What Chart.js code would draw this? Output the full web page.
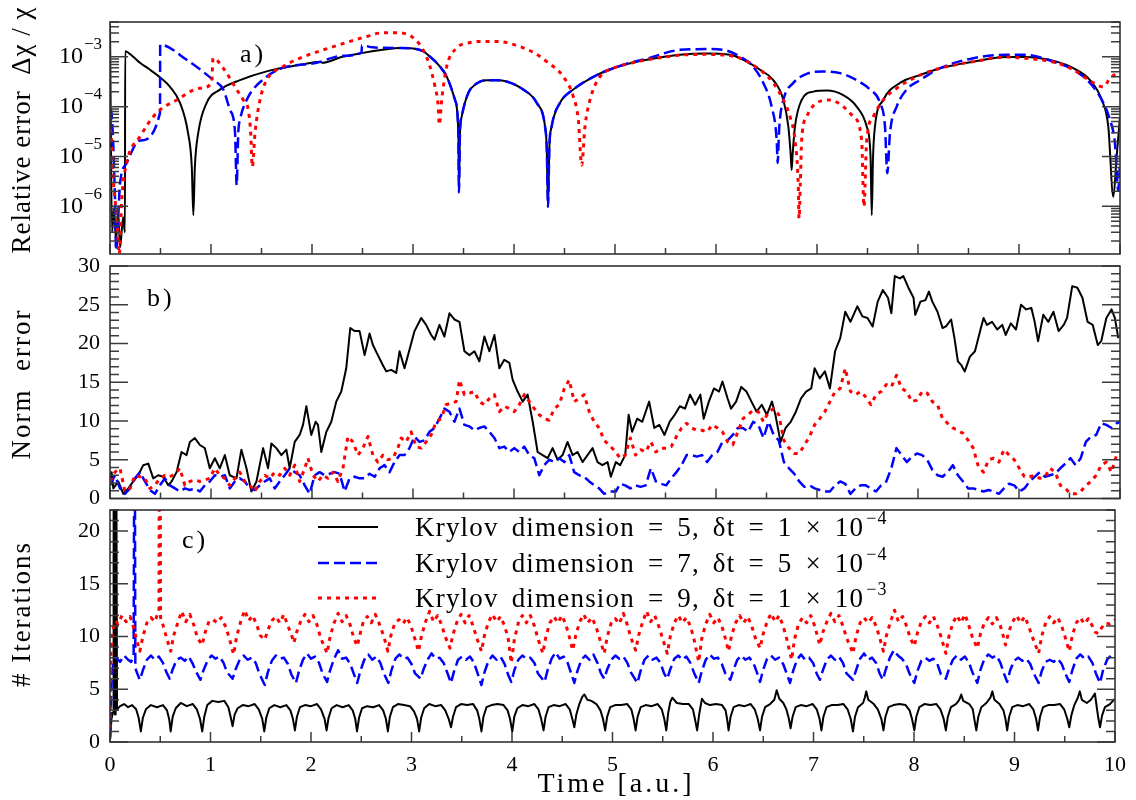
<!DOCTYPE html>
<html>
<head>
<meta charset="utf-8">
<title>Krylov propagation errors</title>
<script src="https://cdn.jsdelivr.net/npm/chart.js@4.4.1/dist/chart.umd.min.js"></script>
<style>
  html, body { margin: 0; background: #fff; }
  #wrap { position: relative; width: 1136px; height: 800px; }
  #wrap canvas { position: absolute; left: 0; top: 0; }
</style>
</head>
<body>
<div id="wrap">
  <canvas id="relChart" width="1136" height="800"></canvas>
  <canvas id="normChart" width="1136" height="800"></canvas>
  <canvas id="iterChart" width="1136" height="800"></canvas>
</div>
<script>
// series: Krylov dimension 5 / 7 / 9, each point is [time, value]
const krylovDims = [5, 7, 9];
const stepMantissa = ['1', '5', '1'];
const stepExponent = ['−4', '−4', '−3'];
const panelTags = ['a)', 'b)', 'c)'];
const axisTitles = ['Relative error  Δχ / χ', 'Norm  error', '# Iterations', 'Time [a.u.]'];
const relTickPowers = [-3, -4, -5, -6];
const timeTicks = [0, 1, 2, 3, 4, 5, 6, 7, 8, 9, 10];

// a) relative error of the expectation value
const relErrK5 = [[0.0,4.5e-3],[0.02,3e-7],[0.04,9e-7],[0.06,2e-7],[0.08,8e-7],[0.1,1.5e-7],[0.13,6e-7],[0.148,3e-7],
  [0.15,1.3e-3],[0.23,1.0e-3],[0.3,7.5e-4],[0.396,5.5e-4],[0.5,3.8e-4],[0.594,2.5e-4],[0.693,1.19e-4],[0.772,3.0e-5],
  [0.81,6e-6],[0.825,6.6e-7],[0.84,6e-6],[0.874,3.0e-5],[0.957,1.19e-4],[1.089,2.2e-4],[1.287,3.4e-4],[1.551,5.1e-4],
  [1.881,6.9e-4],[2.079,8.0e-4],[2.1,7.6e-4],[2.3,1.0e-3],[2.505,1.2e-3],[2.7,1.38e-3],[2.871,1.5e-3],[3.0,1.47e-3],
  [3.1,1.3e-3],[3.168,1.01e-3],[3.25,7e-4],[3.334,4.0e-4],[3.416,1.36e-4],[3.449,3.0e-5],[3.455,1.9e-6],[3.465,3e-5],
  [3.482,6.3e-5],[3.547,1.86e-4],[3.629,2.9e-4],[3.729,3.4e-4],[3.827,3.4e-4],[3.927,3.2e-4],[4.092,2.2e-4],[4.225,1.19e-4],
  [4.307,4.0e-5],[4.324,1.5e-5],[4.337,9.8e-7],[4.35,1.5e-5],[4.373,4.0e-5],[4.455,1.19e-4],[4.587,2.2e-4],[4.819,4.3e-4],
  [4.983,5.9e-4],[5.15,7.4e-4],[5.314,8.7e-4],[5.644,1.1e-3],[5.908,1.16e-3],[6.139,1.1e-3],[6.304,8.0e-4],[6.436,5.5e-4],
  [6.567,3.4e-4],[6.667,1.36e-4],[6.716,4.0e-5],[6.738,1.2e-5],[6.749,5.3e-6],[6.76,1.2e-5],[6.782,4.0e-5],[6.848,1.36e-4],
  [6.964,2.0e-4],[7.096,2.1e-4],[7.26,1.7e-4],[7.393,1.0e-4],[7.492,4.0e-5],[7.53,1e-5],[7.542,6.6e-7],[7.555,1e-5],
  [7.574,4.0e-5],[7.656,1.36e-4],[7.822,3.0e-4],[8.02,4.3e-4],[8.218,5.9e-4],[8.548,8.0e-4],[8.878,9.9e-4],[9.043,9.9e-4],
  [9.373,8.0e-4],[9.538,5.9e-4],[9.703,3.4e-4],[9.819,1.36e-4],[9.884,4.0e-5],[9.934,1.55e-6],[9.967,1.0e-5],[10.0,6.3e-5]];

const relErrK7 = [[0.0,9e-5],[0.01,8.6e-5],[0.05,1.3e-6],[0.06,1.3e-7],[0.1,2.9e-6],[0.165,7.4e-6],[0.297,2.1e-5],
  [0.495,7.5e-5],[0.497,1.75e-3],[0.759,8.7e-4],[1.023,3.4e-4],[1.122,2.2e-4],[1.188,8.6e-5],[1.238,3.0e-5],[1.254,2.66e-6],
  [1.27,3e-5],[1.287,5.4e-5],[1.353,1.36e-4],[1.551,4.0e-4],[1.713,6.0e-4],[2.047,7.6e-4],[2.3,1.05e-3],[2.49,1.22e-3],
  [2.495,1.7e-3],[2.6,1.55e-3],[2.871,1.5e-3],[3.0,1.47e-3],[3.1,1.3e-3],[3.168,1.01e-3],[3.25,7e-4],[3.334,4.0e-4],
  [3.416,1.36e-4],[3.449,3.0e-5],[3.455,1.9e-6],[3.465,3e-5],[3.482,6.3e-5],[3.547,1.86e-4],[3.629,2.9e-4],[3.729,3.4e-4],
  [3.827,3.4e-4],[3.927,3.2e-4],[4.092,2.2e-4],[4.225,1.19e-4],[4.307,4.0e-5],[4.324,1.5e-5],[4.337,9.8e-7],[4.35,1.5e-5],
  [4.373,4.0e-5],[4.455,1.19e-4],[4.587,2.2e-4],[4.819,4.3e-4],[4.983,5.9e-4],[5.15,7.6e-4],[5.314,9.2e-4],[5.644,1.38e-3],
  [5.908,1.43e-3],[6.069,1.38e-3],[6.238,1.01e-3],[6.366,6.4e-4],[6.468,3.0e-4],[6.551,1.0e-4],[6.601,2.1e-5],[6.611,7.4e-6],
  [6.62,2e-5],[6.627,4.0e-5],[6.667,1.36e-4],[6.766,3.0e-4],[6.898,4.55e-4],[7.062,5.1e-4],[7.228,4.7e-4],[7.393,3.4e-4],
  [7.525,2.2e-4],[7.624,1.19e-4],[7.673,4.0e-5],[7.696,4.6e-6],[7.723,3.0e-5],[7.789,1.0e-4],[7.888,2.2e-4],[8.02,3.4e-4],
  [8.218,5.9e-4],[8.548,9.4e-4],[8.878,1.1e-3],[9.043,1.1e-3],[9.373,7.6e-4],[9.538,5.5e-4],[9.703,3.0e-4],[9.835,1.19e-4],
  [9.901,5.4e-5],[9.95,1.86e-5],[9.983,2.1e-6],[10.0,7.4e-6]];

const relErrK9 = [[0.0,3.5e-5],[0.01,3.0e-5],[0.033,3.4e-6],[0.066,6.2e-7],[0.092,1.1e-7],[0.116,1.33e-6],[0.165,7.4e-6],
  [0.297,2.5e-5],[0.462,7.5e-5],[0.661,1.36e-4],[0.891,2.34e-4],[1.007,3.0e-4],[1.02,9.4e-4],[1.06,8.5e-4],[1.155,4.7e-4],
  [1.254,2.2e-4],[1.32,1.36e-4],[1.369,8.6e-5],[1.393,3.0e-5],[1.409,6.2e-6],[1.436,3.0e-5],[1.485,1.36e-4],[1.551,3.4e-4],
  [1.716,6.4e-4],[1.881,9.4e-4],[2.211,1.6e-3],[2.542,2.56e-3],[2.673,3.0e-3],[2.85,3.05e-3],[3.003,2.4e-3],[3.1,1.38e-3],
  [3.168,6.4e-4],[3.218,2.5e-4],[3.25,1.0e-4],[3.26,4.3e-5],[3.284,1.36e-4],[3.334,6.4e-4],[3.433,1.5e-3],[3.55,1.9e-3],
  [3.663,2.03e-3],[3.829,2.03e-3],[4.059,1.6e-3],[4.2,1.2e-3],[4.324,8.0e-4],[4.488,4.0e-4],[4.587,1.6e-4],[4.637,5.4e-5],
  [4.67,6.7e-6],[4.703,4.0e-5],[4.752,1.36e-4],[4.851,4.0e-4],[4.983,5.9e-4],[5.15,7.4e-4],[5.314,8.7e-4],[5.644,1.08e-3],
  [5.908,1.12e-3],[6.1,1.08e-3],[6.238,9.4e-4],[6.436,5.5e-4],[6.567,3.0e-4],[6.667,1.36e-4],[6.733,6.3e-5],[6.782,2.1e-5],
  [6.815,2.45e-6],[6.822,5.7e-7],[6.835,3e-6],[6.848,2.1e-5],[6.898,6.3e-5],[6.997,1.19e-4],[7.129,1.36e-4],[7.26,1.0e-4],
  [7.36,6.3e-5],[7.442,2.1e-5],[7.465,9.8e-7],[7.492,2.1e-5],[7.557,6.3e-5],[7.656,1.36e-4],[7.789,2.34e-4],[8.02,4.3e-4],
  [8.218,5.9e-4],[8.548,8.0e-4],[8.878,9.9e-4],[9.043,9.4e-4],[9.373,7.6e-4],[9.538,5.5e-4],[9.736,3.0e-4],[9.835,2.5e-4],
  [9.901,3.7e-4],[10.0,5.1e-4]];

// b) norm error
const normK5 = [[0.0,2.2],[0.016,3.4],[0.033,1.3],[0.082,2.2],[0.132,0.6],[0.181,1.3],[0.231,2.2],[0.28,3.0],[0.329,4.3],
  [0.379,4.5],[0.428,2.6],[0.478,3.0],[0.527,2.8],[0.577,1.7],[0.61,2.2],[0.659,3.4],[0.708,6.0],[0.758,5.6],[0.791,7.3],
  [0.84,7.8],[0.89,6.9],[0.939,6.5],[0.988,3.9],[1.038,5.2],[1.087,3.9],[1.137,5.6],[1.186,3.0],[1.252,2.6],[1.301,6.3],
  [1.351,3.9],[1.4,0.9],[1.45,2.2],[1.516,6.5],[1.565,3.9],[1.598,7.1],[1.647,6.5],[1.697,5.6],[1.746,6.3],[1.779,3.9],
  [1.829,7.3],[1.878,8.2],[1.911,9.5],[1.944,11.9],[1.993,8.2],[2.036,9.9],[2.059,9.5],[2.092,6.0],[2.142,8.6],[2.191,9.9],
  [2.24,12.5],[2.29,13.8],[2.339,16.8],[2.379,22.0],[2.422,21.6],[2.471,21.6],[2.521,18.5],[2.57,21.3],[2.603,19.8],
  [2.652,18.5],[2.702,17.2],[2.735,16.4],[2.784,16.6],[2.834,16.2],[2.867,19.0],[2.916,16.8],[2.965,19.2],[3.015,21.6],
  [3.081,23.3],[3.13,22.4],[3.18,21.1],[3.213,20.5],[3.262,22.4],[3.311,20.9],[3.361,23.9],[3.41,23.1],[3.46,22.8],
  [3.509,19.0],[3.559,18.5],[3.608,19.0],[3.657,17.7],[3.707,20.9],[3.756,19.0],[3.806,21.1],[3.855,16.8],[3.904,17.9],
  [3.954,17.5],[3.987,15.3],[4.036,13.8],[4.086,12.5],[4.135,13.4],[4.185,9.9],[4.234,6.0],[4.283,5.6],[4.333,5.2],
  [4.382,6.5],[4.432,5.0],[4.481,5.6],[4.53,7.3],[4.58,5.6],[4.629,6.0],[4.679,4.7],[4.728,5.6],[4.778,6.5],[4.827,4.7],
  [4.876,4.3],[4.926,4.7],[4.959,2.8],[5.008,4.7],[5.051,4.3],[5.101,5.6],[5.135,10.8],[5.169,8.6],[5.22,10.3],[5.27,9.9],
  [5.338,12.5],[5.389,9.1],[5.439,9.5],[5.49,8.2],[5.541,9.9],[5.591,10.8],[5.642,11.9],[5.693,11.6],[5.743,13.4],
  [5.794,12.1],[5.845,13.4],[5.878,10.3],[5.929,12.5],[5.98,14.2],[6.03,13.8],[6.064,15.1],[6.115,12.9],[6.149,11.6],
  [6.199,12.5],[6.25,14.4],[6.301,13.8],[6.351,12.5],[6.402,11.2],[6.453,12.1],[6.503,10.8],[6.554,12.5],[6.588,10.8],
  [6.639,7.3],[6.689,9.1],[6.74,9.9],[6.791,11.2],[6.841,12.9],[6.892,13.8],[6.943,14.2],[6.976,16.8],[7.027,15.5],
  [7.078,16.4],[7.128,14.2],[7.179,19.0],[7.23,20.7],[7.28,24.1],[7.331,22.8],[7.399,24.8],[7.449,23.5],[7.5,23.3],
  [7.551,22.2],[7.601,25.4],[7.652,26.9],[7.703,25.9],[7.736,23.9],[7.77,28.7],[7.821,28.4],[7.855,28.7],[7.905,27.2],
  [7.956,25.9],[7.973,23.7],[8.024,25.4],[8.074,25.6],[8.108,26.7],[8.142,25.4],[8.193,24.1],[8.243,22.0],[8.277,22.2],
  [8.328,23.1],[8.361,20.7],[8.395,17.7],[8.429,17.2],[8.463,16.4],[8.514,18.3],[8.564,19.0],[8.615,21.6],[8.649,23.3],
  [8.682,22.4],[8.733,22.8],[8.784,21.8],[8.834,22.4],[8.868,21.1],[8.919,22.6],[8.97,21.8],[9.02,25.0],[9.071,24.4],
  [9.122,24.6],[9.155,22.8],[9.189,20.3],[9.24,23.7],[9.291,22.8],[9.341,24.1],[9.392,21.6],[9.443,22.4],[9.476,23.3],
  [9.527,27.4],[9.578,27.2],[9.628,25.9],[9.679,22.8],[9.73,22.4],[9.78,19.8],[9.814,20.3],[9.865,23.3],[9.916,24.4],
  [9.949,23.3],[9.983,20.7]];

const normK7 = [[0,1.7],[0.049,3.0],[0.099,1.3],[0.148,0.6],[0.198,1.3],[0.247,2.6],[0.297,3.4],[0.346,2.2],[0.395,1.1],
  [0.445,0.6],[0.494,1.7],[0.544,2.6],[0.593,1.7],[0.643,1.3],[0.692,0.9],[0.741,1.3],[0.791,1.1],[0.84,1.3],[0.89,0.9],
  [0.939,1.7],[0.988,2.2],[1.038,3.0],[1.087,2.8],[1.137,3.0],[1.186,1.3],[1.236,2.2],[1.285,2.6],[1.334,2.2],[1.384,1.3],
  [1.433,1.1],[1.483,1.7],[1.532,2.2],[1.582,2.6],[1.631,1.3],[1.68,2.2],[1.73,3.0],[1.779,3.9],[1.829,3.4],[1.878,3.0],
  [1.928,1.7],[1.977,0.6],[2.026,3.0],[2.076,3.4],[2.125,3.0],[2.175,3.2],[2.224,3.4],[2.274,3.2],[2.323,0.9],[2.372,2.6],
  [2.422,2.8],[2.471,2.6],[2.521,2.6],[2.57,3.2],[2.62,2.8],[2.669,3.9],[2.718,4.3],[2.768,3.4],[2.817,4.7],[2.867,5.6],
  [2.916,5.6],[2.965,6.5],[3.015,8.0],[3.064,7.3],[3.114,7.5],[3.163,8.6],[3.213,9.1],[3.262,10.3],[3.311,11.6],[3.361,11.2],
  [3.41,9.9],[3.46,11.6],[3.509,9.5],[3.559,9.3],[3.608,8.8],[3.657,9.1],[3.707,9.3],[3.756,8.6],[3.806,7.8],[3.855,6.5],
  [3.904,6.7],[3.954,6.0],[4.003,6.5],[4.053,6.0],[4.102,6.7],[4.152,5.6],[4.201,5.2],[4.25,3.0],[4.3,4.3],[4.349,5.0],
  [4.399,4.7],[4.448,5.2],[4.498,4.7],[4.547,5.6],[4.596,3.4],[4.646,3.0],[4.695,2.8],[4.745,2.2],[4.794,1.7],[4.843,1.3],
  [4.893,0.6],[4.942,0.9],[5.008,0.9],[5.051,1.9],[5.101,1.7],[5.152,1.3],[5.203,1.7],[5.253,1.5],[5.304,1.7],[5.355,3.9],
  [5.405,2.2],[5.456,1.9],[5.507,1.7],[5.557,2.6],[5.608,3.4],[5.659,4.3],[5.709,5.6],[5.76,5.6],[5.811,5.4],[5.861,5.6],
  [5.912,4.7],[5.963,5.6],[6.014,6.0],[6.064,7.3],[6.115,7.5],[6.166,8.2],[6.216,9.1],[6.267,9.1],[6.318,8.6],[6.368,9.9],
  [6.419,9.5],[6.47,7.8],[6.52,9.9],[6.571,8.2],[6.622,7.5],[6.672,4.7],[6.723,3.9],[6.774,3.2],[6.824,2.2],[6.875,1.5],
  [6.926,1.7],[6.976,1.3],[7.027,1.1],[7.078,0.9],[7.128,0.9],[7.179,1.7],[7.23,2.2],[7.28,1.9],[7.331,0.6],[7.382,1.3],
  [7.432,1.7],[7.483,1.7],[7.534,1.3],[7.584,0.9],[7.635,1.7],[7.686,2.2],[7.736,3.9],[7.787,6.5],[7.838,5.6],[7.889,4.7],
  [7.939,5.4],[7.99,5.8],[8.041,5.6],[8.091,5.0],[8.142,3.7],[8.193,3.0],[8.243,2.8],[8.294,3.4],[8.345,4.3],[8.395,3.0],
  [8.446,2.2],[8.497,1.3],[8.547,1.3],[8.598,1.1],[8.649,0.9],[8.699,1.1],[8.75,0.9],[8.801,0.6],[8.851,1.3],[8.902,1.9],
  [8.953,1.7],[9.003,0.9],[9.054,1.3],[9.105,2.2],[9.155,2.8],[9.206,3.4],[9.257,2.8],[9.307,3.0],[9.358,3.2],[9.409,3.9],
  [9.459,4.5],[9.51,5.2],[9.561,4.3],[9.611,5.2],[9.662,7.3],[9.713,8.0],[9.764,8.2],[9.814,9.7],[9.865,9.5],[9.916,9.1],
  [9.966,9.7],[10.0,9.9]];

const normK9 = [[0,2.2],[0.049,3.4],[0.099,3.9],[0.148,0.9],[0.198,1.3],[0.247,3.0],[0.297,2.8],[0.346,2.6],[0.395,1.3],
  [0.445,1.7],[0.494,2.6],[0.544,3.0],[0.593,2.8],[0.643,3.2],[0.692,3.9],[0.741,1.7],[0.791,2.2],[0.84,2.4],[0.89,2.2],
  [0.939,2.4],[0.988,2.6],[1.038,3.9],[1.087,3.0],[1.137,2.6],[1.186,1.7],[1.236,2.6],[1.285,3.4],[1.334,2.2],[1.384,1.7],
  [1.433,0.9],[1.483,2.2],[1.532,3.0],[1.582,2.6],[1.631,3.4],[1.68,3.0],[1.73,3.9],[1.779,3.0],[1.829,4.3],[1.878,2.2],
  [1.928,3.9],[1.96,5.2],[2.01,3.0],[2.059,2.2],[2.109,3.0],[2.158,2.6],[2.208,3.4],[2.257,2.2],[2.306,3.9],[2.356,8.0],
  [2.405,7.3],[2.455,5.6],[2.504,6.5],[2.554,8.0],[2.603,5.6],[2.652,4.7],[2.702,5.6],[2.751,5.0],[2.801,5.2],[2.85,6.5],
  [2.883,7.8],[2.932,7.3],[2.982,8.6],[3.031,6.7],[3.081,6.5],[3.13,7.3],[3.18,8.2],[3.229,9.9],[3.278,10.3],[3.328,12.1],
  [3.377,12.3],[3.427,12.5],[3.46,15.3],[3.509,13.4],[3.559,13.6],[3.608,13.8],[3.657,12.5],[3.707,12.1],[3.756,12.9],
  [3.806,13.4],[3.855,11.2],[3.904,11.9],[3.954,11.6],[4.003,11.2],[4.053,12.1],[4.102,13.4],[4.152,12.5],[4.201,11.6],
  [4.25,10.8],[4.3,10.3],[4.349,10.1],[4.399,11.6],[4.448,12.1],[4.498,14.2],[4.547,15.3],[4.596,12.5],[4.646,12.9],
  [4.695,13.4],[4.745,11.2],[4.794,9.9],[4.843,9.1],[4.893,7.5],[4.942,6.9],[5.008,6.0],[5.051,5.2],[5.101,5.6],[5.152,7.8],
  [5.203,5.6],[5.253,6.3],[5.304,6.0],[5.355,7.3],[5.405,6.0],[5.456,6.5],[5.507,6.5],[5.557,6.7],[5.608,8.0],[5.659,9.1],
  [5.709,9.7],[5.76,9.1],[5.811,8.8],[5.861,8.8],[5.912,8.6],[5.963,9.5],[6.014,9.1],[6.064,8.6],[6.115,7.3],[6.166,6.9],
  [6.216,8.6],[6.267,10.3],[6.318,10.8],[6.368,11.4],[6.419,11.2],[6.47,9.9],[6.52,11.2],[6.571,11.6],[6.622,10.8],
  [6.672,7.5],[6.723,6.5],[6.774,5.8],[6.824,5.8],[6.875,6.9],[6.926,8.0],[6.976,9.5],[7.027,10.3],[7.078,11.2],[7.128,12.5],
  [7.179,13.8],[7.23,14.2],[7.28,16.8],[7.331,13.8],[7.382,13.4],[7.432,13.8],[7.483,13.1],[7.534,12.1],[7.584,13.4],
  [7.635,13.8],[7.686,14.7],[7.736,14.4],[7.787,15.9],[7.838,14.2],[7.889,13.8],[7.939,12.5],[7.99,12.7],[8.041,13.8],
  [8.091,13.6],[8.142,12.5],[8.193,12.1],[8.243,10.3],[8.294,9.7],[8.345,9.1],[8.395,8.8],[8.446,8.4],[8.497,7.5],[8.547,6.5],
  [8.598,4.1],[8.649,3.4],[8.699,5.0],[8.75,5.2],[8.801,4.7],[8.851,6.3],[8.902,5.6],[8.953,5.0],[9.003,3.9],[9.054,2.8],
  [9.105,2.8],[9.155,3.0],[9.206,2.6],[9.257,2.8],[9.307,3.9],[9.358,3.4],[9.409,1.7],[9.459,1.3],[9.51,0.6],[9.561,0.6],
  [9.611,0.9],[9.662,1.7],[9.713,2.2],[9.764,3.0],[9.814,4.3],[9.865,4.7],[9.916,3.4],[9.966,5.6]];

// c) Lanczos iterations per step
const iterK5 = [[0,0.2],[0.015,2.2],[0.03,2.8],[0.036,24],[0.044,24],[0.05,2.6],[0.056,24],[0.064,24],[0.07,3.1],[0.1,3.4],
  [0.14,3.6],[0.18,3.3],[0.22,3.5],[0.26,3.1],[0.285,2.3],
  [0.307,1.0],[0.327,2.3],[0.357,3.1],[0.407,3.5],[0.467,3.3],[0.527,3.5],[0.567,3.0],[0.59,2.1],
  [0.604,1.0],[0.624,2.4],[0.654,3.2],[0.704,3.7],[0.764,3.4],[0.824,3.6],[0.864,3.1],[0.895,2.2],
  [0.918,1.0],[0.938,2.4],[0.968,3.5],[1.018,3.9],[1.078,3.8],[1.138,3.9],[1.178,3.3],[1.2,2.4],
  [1.22,1.5],[1.24,2.6],[1.27,3.2],[1.32,3.5],[1.38,3.4],[1.44,3.6],[1.48,3.1],[1.515,2.2],
  [1.535,1.0],[1.555,2.3],[1.585,3.2],[1.635,3.5],[1.695,3.3],[1.755,3.5],[1.795,3.0],[1.82,2.2],
  [1.84,1.1],[1.86,2.4],[1.89,3.3],[1.94,3.5],[2.0,3.4],[2.06,3.6],[2.1,3.1],[2.135,2.2],
  [2.155,1.1],[2.175,2.3],[2.205,3.2],[2.255,3.5],[2.315,3.3],[2.375,3.5],[2.415,3.0],[2.44,2.2],
  [2.458,1.0],[2.478,2.3],[2.508,3.2],[2.558,3.4],[2.618,3.3],[2.678,3.5],[2.718,3.0],[2.745,2.2],
  [2.765,1.0],[2.785,2.4],[2.815,3.3],[2.865,3.6],[2.925,3.5],[2.985,3.4],[3.025,2.9],[3.055,2.2],
  [3.076,1.0],[3.096,2.3],[3.126,3.2],[3.176,3.6],[3.236,3.4],[3.296,3.5],[3.336,3.0],[3.37,2.2],
  [3.393,1.4],[3.413,2.4],[3.443,3.3],[3.493,3.6],[3.553,3.5],[3.613,3.6],[3.653,3.0],[3.675,2.2],
  [3.696,1.0],[3.716,2.4],[3.746,3.3],[3.796,3.5],[3.856,3.6],[3.916,3.5],[3.956,3.0],[3.98,2.2],
  [4.003,1.0],[4.023,2.4],[4.053,3.2],[4.103,3.5],[4.163,3.4],[4.223,3.6],[4.263,3.1],[4.29,2.2],
  [4.314,1.1],[4.334,2.4],[4.364,3.3],[4.414,3.5],[4.474,3.4],[4.534,3.6],[4.574,3.1],[4.6,2.2],
  [4.62,1.4],[4.64,2.6],[4.67,3.6],[4.7,4.3],[4.72,4.5],[4.75,4.0],[4.79,3.9],[4.84,3.6],[4.88,3.0],[4.905,2.2],
  [4.927,1.1],[4.947,2.4],[4.977,3.3],[5.027,3.5],[5.087,3.5],[5.147,3.6],[5.187,3.1],[5.21,2.2],
  [5.23,1.1],[5.25,2.4],[5.28,3.3],[5.33,3.5],[5.39,3.4],[5.45,3.6],[5.49,3.1],[5.515,2.2],
  [5.535,1.1],[5.555,2.8],[5.575,3.8],[5.595,4.2],[5.64,3.7],[5.7,3.6],[5.76,3.6],[5.8,3.1],[5.82,2.2],
  [5.842,1.1],[5.862,2.6],[5.89,4.1],[5.92,3.7],[5.97,3.5],[6.03,3.6],[6.09,3.5],[6.125,3.0],[6.14,2.2],
  [6.155,1.1],[6.175,2.4],[6.205,3.3],[6.255,3.5],[6.315,3.4],[6.375,3.6],[6.415,3.1],[6.445,2.2],
  [6.468,1.1],[6.488,2.4],[6.518,3.3],[6.568,3.6],[6.61,4.0],[6.634,4.9],[6.66,4.1],[6.7,3.7],[6.73,3.1],[6.755,2.2],
  [6.772,1.3],[6.792,2.4],[6.822,3.3],[6.872,3.5],[6.932,3.4],[6.992,3.6],[7.032,3.1],[7.06,2.2],
  [7.079,1.1],[7.099,2.4],[7.129,3.3],[7.179,3.5],[7.239,3.5],[7.299,3.6],[7.339,3.1],[7.37,2.2],
  [7.393,1.0],[7.413,2.4],[7.443,3.3],[7.493,3.7],[7.51,4.2],[7.525,4.8],[7.545,4.0],[7.6,3.6],[7.64,3.1],[7.675,2.2],
  [7.696,1.1],[7.716,2.4],[7.746,3.3],[7.796,3.5],[7.856,3.6],[7.916,3.5],[7.956,3.0],[7.98,2.2],
  [8.003,1.1],[8.023,2.4],[8.053,3.3],[8.103,3.6],[8.163,3.5],[8.223,3.6],[8.263,3.1],[8.295,2.2],
  [8.317,1.1],[8.337,2.4],[8.367,3.3],[8.417,3.6],[8.45,4.0],[8.47,4.5],[8.49,3.9],[8.55,3.6],[8.585,3.1],[8.6,2.2],
  [8.62,1.1],[8.64,2.4],[8.67,3.3],[8.72,3.7],[8.76,4.2],[8.78,4.8],[8.8,4.0],[8.85,3.6],[8.89,3.0],[8.91,2.2],
  [8.927,1.1],[8.947,2.4],[8.977,3.3],[9.027,3.5],[9.087,3.4],[9.147,3.6],[9.187,3.1],[9.215,2.2],
  [9.234,1.1],[9.254,2.4],[9.284,3.3],[9.334,3.5],[9.394,3.5],[9.454,3.6],[9.494,3.1],[9.525,2.2],
  [9.545,1.4],[9.565,2.5],[9.595,3.5],[9.63,4.2],[9.65,4.8],[9.67,4.0],[9.72,3.7],[9.76,4.0],[9.8,4.6],[9.82,3.2],[9.835,2.2],
  [9.851,1.4],[9.871,2.5],[9.9,3.3],[9.95,3.6],[9.98,3.9],[10.0,4.1]];

const iterK7 = [[0,0.3],[0.015,5.5],[0.03,7.3],[0.06,8.0],[0.1,7.6],[0.14,8.2],[0.18,7.8],[0.21,7.6],[0.235,8.1],
  [0.24,25],[0.248,25],[0.252,7.0],[0.275,6.4],
  [0.297,5.9],[0.327,6.8],[0.367,7.8],[0.407,8.2],[0.447,7.8],[0.487,8.1],[0.527,7.5],[0.562,6.6],
  [0.594,6.0],[0.624,6.9],[0.664,7.8],[0.704,8.0],[0.744,7.7],[0.784,8.1],[0.824,7.4],[0.865,6.5],
  [0.9,5.9],[0.93,6.8],[0.97,7.7],[1.01,8.2],[1.05,7.9],[1.09,8.1],[1.13,7.5],[1.165,6.6],
  [1.22,6.0],[1.25,6.9],[1.29,7.8],[1.33,8.2],[1.37,7.8],[1.41,8.0],[1.45,7.5],[1.485,6.5],
  [1.54,5.4],[1.57,6.6],[1.61,7.7],[1.65,8.2],[1.69,7.9],[1.73,8.0],[1.77,7.4],[1.805,6.4],
  [1.85,5.6],[1.88,6.7],[1.92,7.8],[1.96,8.4],[2.0,7.9],[2.04,8.1],[2.08,7.5],[2.115,6.5],
  [2.16,5.7],[2.19,6.8],[2.23,7.9],[2.27,8.7],[2.31,7.9],[2.35,8.0],[2.39,7.4],[2.425,6.5],
  [2.46,5.6],[2.49,6.7],[2.53,7.8],[2.57,8.3],[2.61,7.8],[2.65,8.1],[2.69,7.5],[2.725,6.5],
  [2.77,5.6],[2.8,6.8],[2.84,7.9],[2.88,8.3],[2.92,7.9],[2.96,8.0],[3.0,7.4],[3.035,6.5],
  [3.09,6.0],[3.12,6.9],[3.16,7.8],[3.2,8.4],[3.24,7.9],[3.28,8.0],[3.32,7.5],[3.355,6.6],
  [3.393,5.6],[3.423,6.7],[3.463,7.8],[3.503,8.1],[3.543,7.8],[3.583,8.1],[3.623,7.5],[3.658,6.5],
  [3.696,5.4],[3.726,6.6],[3.766,7.7],[3.806,8.2],[3.846,7.8],[3.886,8.1],[3.926,7.4],[3.961,6.4],
  [3.993,5.7],[4.023,6.8],[4.063,7.8],[4.103,8.2],[4.143,7.9],[4.183,8.0],[4.223,7.5],[4.258,6.5],
  [4.324,5.7],[4.354,6.8],[4.394,7.9],[4.434,8.5],[4.474,7.9],[4.514,8.1],[4.554,7.5],[4.589,6.5],
  [4.62,5.6],[4.65,6.7],[4.69,7.8],[4.73,8.2],[4.77,7.8],[4.81,8.3],[4.85,7.5],[4.885,6.5],
  [4.918,6.0],[4.948,6.9],[4.988,7.8],[5.028,8.2],[5.068,7.9],[5.108,8.1],[5.148,7.5],[5.183,6.6],
  [5.248,5.6],[5.278,6.7],[5.318,7.8],[5.358,8.2],[5.398,7.8],[5.438,8.0],[5.478,7.5],[5.513,6.5],
  [5.545,6.0],[5.575,6.9],[5.615,7.9],[5.655,8.2],[5.695,7.8],[5.735,8.1],[5.775,7.5],[5.81,6.6],
  [5.858,5.6],[5.888,6.7],[5.928,7.8],[5.968,8.3],[6.008,7.9],[6.048,8.0],[6.088,7.4],[6.123,6.5],
  [6.172,5.9],[6.202,6.8],[6.242,7.8],[6.282,8.2],[6.322,7.8],[6.362,8.0],[6.402,7.5],[6.437,6.6],
  [6.468,5.7],[6.498,6.8],[6.538,7.9],[6.578,8.2],[6.618,7.8],[6.658,8.0],[6.698,7.4],[6.733,6.5],
  [6.766,5.6],[6.796,6.7],[6.836,7.8],[6.876,8.3],[6.916,7.8],[6.956,8.0],[6.996,7.5],[7.031,6.5],
  [7.063,5.9],[7.093,6.8],[7.133,7.8],[7.173,8.2],[7.213,7.8],[7.253,8.1],[7.293,7.5],[7.328,6.5],
  [7.393,5.9],[7.423,6.8],[7.463,7.9],[7.503,8.4],[7.543,7.8],[7.583,8.0],[7.623,7.5],[7.658,6.5],
  [7.69,5.9],[7.72,6.9],[7.76,8.0],[7.8,8.7],[7.84,8.2],[7.88,7.9],[7.92,7.4],[7.955,6.5],
  [8.003,5.6],[8.033,6.7],[8.073,7.7],[8.113,8.0],[8.153,7.7],[8.193,7.9],[8.233,7.4],[8.268,6.4],
  [8.317,6.0],[8.347,6.9],[8.387,7.8],[8.427,8.2],[8.467,7.8],[8.507,8.1],[8.547,7.5],[8.582,6.6],
  [8.63,5.6],[8.66,6.8],[8.7,7.9],[8.74,8.3],[8.78,8.0],[8.82,8.2],[8.86,7.5],[8.895,6.5],
  [8.927,5.7],[8.957,6.8],[8.997,7.7],[9.037,8.0],[9.077,7.7],[9.117,7.9],[9.157,7.4],[9.192,6.5],
  [9.24,5.6],[9.27,6.7],[9.31,7.6],[9.35,7.8],[9.39,7.6],[9.43,7.9],[9.47,7.4],[9.505,6.5],
  [9.545,5.7],[9.575,6.8],[9.615,7.9],[9.655,8.3],[9.695,7.9],[9.735,8.1],[9.775,7.5],[9.81,6.5],
  [9.851,5.6],[9.881,6.8],[9.921,7.8],[9.961,8.2],[10.0,8.3]];

const iterK9 = [[0,0.5],[0.01,8.5],[0.025,10.5],[0.05,11.5],[0.08,11.2],[0.12,12.0],[0.16,11.4],[0.2,11.9],[0.23,11.0],[0.262,9.8],
  [0.297,8.6],[0.327,10.0],[0.367,11.3],[0.407,11.8],[0.447,11.4],[0.475,12.2],[0.487,12.4],[0.49,25],[0.5,25],[0.503,11.8],[0.527,11.1],[0.562,9.9],
  [0.604,8.6],[0.634,10.1],[0.674,11.3],[0.714,12.4],[0.754,11.4],[0.794,12.1],[0.834,11.1],[0.869,9.9],
  [0.917,9.2],[0.947,10.4],[0.987,11.5],[1.027,11.6],[1.067,11.3],[1.107,11.8],[1.147,11.0],[1.182,10.0],
  [1.23,8.3],[1.26,10.0],[1.3,11.4],[1.34,12.5],[1.38,11.5],[1.42,12.0],[1.46,11.1],[1.495,10.1],
  [1.54,9.7],[1.57,10.6],[1.61,11.5],[1.65,11.9],[1.69,11.3],[1.73,12.1],[1.77,11.0],[1.805,10.2],
  [1.83,9.4],[1.86,10.5],[1.9,11.5],[1.94,12.1],[1.98,11.4],[2.02,12.0],[2.06,11.1],[2.095,9.9],
  [2.16,8.4],[2.19,10.0],[2.23,11.3],[2.27,12.2],[2.31,11.4],[2.35,12.0],[2.39,11.1],[2.425,9.9],
  [2.46,9.1],[2.49,10.3],[2.52,11.4],[2.56,11.9],[2.6,11.3],[2.64,12.1],[2.68,11.2],[2.725,10.0],
  [2.765,8.6],[2.795,10.1],[2.835,11.3],[2.875,11.6],[2.915,11.2],[2.955,11.8],[2.995,11.0],[3.03,9.9],
  [3.07,8.6],[3.1,10.1],[3.14,11.4],[3.18,12.4],[3.22,11.4],[3.26,12.0],[3.3,11.1],[3.335,10.0],
  [3.383,8.9],[3.413,10.2],[3.453,11.4],[3.493,12.1],[3.533,11.3],[3.573,12.0],[3.613,11.0],[3.648,9.9],
  [3.696,8.6],[3.726,10.1],[3.766,11.4],[3.806,12.1],[3.846,11.4],[3.886,11.9],[3.926,11.0],[3.961,9.9],
  [3.993,7.5],[4.023,9.7],[4.063,11.3],[4.103,12.0],[4.143,11.3],[4.183,12.0],[4.223,11.0],[4.258,9.8],
  [4.307,8.4],[4.337,10.0],[4.377,11.3],[4.417,11.9],[4.457,11.3],[4.497,12.0],[4.537,11.1],[4.572,9.9],
  [4.604,8.7],[4.634,10.1],[4.674,11.4],[4.714,12.1],[4.754,11.3],[4.794,11.8],[4.834,11.0],[4.869,9.9],
  [4.918,8.4],[4.948,10.0],[4.988,11.3],[5.028,11.7],[5.068,11.2],[5.108,12.2],[5.148,11.1],[5.183,9.9],
  [5.23,8.7],[5.26,10.1],[5.3,11.4],[5.34,12.4],[5.38,11.4],[5.42,12.0],[5.46,11.0],[5.495,9.9],
  [5.545,8.4],[5.575,10.0],[5.615,11.3],[5.655,12.0],[5.695,11.3],[5.735,11.8],[5.775,11.0],[5.81,9.8],
  [5.858,7.6],[5.888,9.8],[5.928,11.2],[5.968,12.1],[6.008,11.3],[6.048,11.8],[6.088,11.0],[6.123,9.8],
  [6.155,8.6],[6.185,10.1],[6.225,11.3],[6.265,12.0],[6.305,11.3],[6.345,11.9],[6.385,11.0],[6.42,9.9],
  [6.468,8.9],[6.498,10.2],[6.538,11.4],[6.578,12.2],[6.618,11.4],[6.658,12.0],[6.698,11.0],[6.733,9.8],
  [6.782,7.8],[6.812,9.8],[6.852,11.2],[6.892,11.8],[6.932,11.3],[6.972,12.0],[7.012,11.0],[7.04,10.0],
  [7.063,9.2],[7.093,10.4],[7.133,11.4],[7.173,12.2],[7.213,11.4],[7.253,12.0],[7.293,11.0],[7.328,9.9],
  [7.393,8.4],[7.423,10.0],[7.463,11.3],[7.503,11.8],[7.543,11.3],[7.583,11.8],[7.623,11.0],[7.658,9.9],
  [7.696,8.6],[7.726,10.1],[7.766,11.4],[7.806,12.5],[7.846,11.4],[7.886,11.9],[7.926,11.0],[7.961,9.9],
  [8.003,9.1],[8.033,10.3],[8.073,11.4],[8.113,11.9],[8.153,11.3],[8.193,11.9],[8.233,11.0],[8.268,10.0],
  [8.317,8.4],[8.347,10.0],[8.387,11.3],[8.427,12.0],[8.467,11.3],[8.507,12.1],[8.547,11.0],[8.582,9.9],
  [8.63,8.9],[8.66,10.2],[8.7,11.3],[8.74,11.8],[8.78,11.2],[8.82,11.8],[8.86,11.0],[8.89,10.0],
  [8.911,9.2],[8.941,10.4],[8.981,11.4],[9.021,12.0],[9.061,11.3],[9.101,11.9],[9.141,11.0],[9.176,10.0],
  [9.24,8.4],[9.27,10.0],[9.31,11.3],[9.35,11.9],[9.39,11.3],[9.43,11.8],[9.47,11.0],[9.505,9.9],
  [9.545,8.6],[9.575,10.1],[9.615,11.3],[9.655,11.8],[9.695,11.2],[9.735,11.7],[9.775,11.0],[9.805,10.4],
  [9.835,10.3],[9.865,10.8],[9.905,11.3],[9.945,11.2],[9.975,11.4],[10.0,11.6]];

// ---- styles -------------------------------------------------------------
const serif = "'Liberation Serif', 'DejaVu Serif', serif";
const seriesStyle = [
  { color: '#000000', width: 2, dash: [] },
  { color: '#0000ff', width: 2.5, dash: [11, 5] },
  { color: '#ff0000', width: 3, dash: [4, 5] }
];

Chart.defaults.font.family = serif;
Chart.defaults.font.size = 22;
Chart.defaults.color = '#000';

function legendText(i) {
  return 'Krylov dimension = ' + krylovDims[i] + ', δt = ' + stepMantissa[i] + ' × 10';
}

function makeSets(series, smooth) {
  return series.map((pts, i) => ({
    label: legendText(i),
    data: pts,
    borderColor: seriesStyle[i].color,
    borderWidth: seriesStyle[i].width,
    borderDash: seriesStyle[i].dash,
    borderJoinStyle: 'round',
    pointRadius: 0,
    fill: false,
    tension: smooth ? 0.4 : 0,
    cubicInterpolationMode: smooth ? 'monotone' : 'default',
    order: 3 - i
  }));
}

// per-panel extras drawn on top of the chart area
const panelDecor = {
  relChart:  { tag: 0, tagX: 240, tagY: 62, title: 0, titleY: 130, titleGap: '1px', logLabels: true },
  normChart: { tag: 1, tagX: 147, tagY: 306, title: 1, titleY: 384, titleGap: '2px' },
  iterChart: { tag: 2, tagX: 182, tagY: 548, title: 2, titleY: 614, titleGap: '2px', legend: true, xTitle: 3 }
};

function tickList(scale) {
  const out = [];
  if (scale.type === 'logarithmic') {
    for (let p = -8; p <= -2; p++) {
      for (let m = 1; m <= 9; m++) {
        const v = m * Math.pow(10, p);
        if (v >= scale.min && v <= scale.max) out.push([v, m === 1]);
      }
    }
  } else {
    for (let v = Math.ceil(scale.min); v <= scale.max; v++) out.push([v, v % 5 === 0]);
  }
  return out;
}

const decorPlugin = {
  id: 'decor',
  afterDraw(chart) {
    const cfg = panelDecor[chart.canvas.id];
    const { ctx, chartArea: a } = chart;
    const xs = chart.scales.x, ys = chart.scales.y;
    ctx.save();

    // inward tick marks
    ctx.strokeStyle = '#3c3c3c';
    ctx.lineWidth = 1.5;
    ctx.beginPath();
    for (let i = 0; i <= 20; i++) {
      const px = xs.getPixelForValue(i / 2);
      const len = i % 2 === 0 ? 10 : 6;
      ctx.moveTo(px, a.bottom);
      ctx.lineTo(px, a.bottom - len);
    }
    tickList(ys).forEach(([v, major]) => {
      const py = ys.getPixelForValue(v);
      const len = major ? 18 : 9;
      ctx.moveTo(a.left, py); ctx.lineTo(a.left + len, py);
      ctx.moveTo(a.right, py); ctx.lineTo(a.right - len, py);
    });
    ctx.stroke();

    // frame
    ctx.strokeStyle = '#333';
    ctx.lineWidth = 1.6;
    ctx.strokeRect(a.left, a.top, a.right - a.left, a.bottom - a.top);

    ctx.fillStyle = '#000';

    // powers of ten on the log axis
    if (cfg.logLabels) {
      relTickPowers.forEach(p => {
        const py = ys.getPixelForValue(Math.pow(10, p));
        const exp = '−' + Math.abs(p);
        ctx.font = '24px ' + serif;
        ctx.textBaseline = 'middle';
        ctx.textAlign = 'left';
        const wBase = ctx.measureText('10').width;
        ctx.font = '17px ' + serif;
        const wExp = ctx.measureText(exp).width;
        const x0 = 101 - wBase - wExp;
        ctx.font = '24px ' + serif;
        ctx.fillText('10', x0, py);
        ctx.font = '17px ' + serif;
        ctx.fillText(exp, x0 + wBase + 1, py - 12);
      });
    }

    // rotated y title
    ctx.font = '27px ' + serif;
    ctx.letterSpacing = cfg.titleGap;
    ctx.textAlign = 'center';
    ctx.textBaseline = 'middle';
    ctx.save();
    ctx.translate(23, cfg.titleY);
    ctx.rotate(-Math.PI / 2);
    ctx.fillText(axisTitles[cfg.title], 0, 0);
    ctx.restore();

    // panel tag
    ctx.font = '26px ' + serif;
    ctx.letterSpacing = '3px';
    ctx.textAlign = 'left';
    ctx.textBaseline = 'alphabetic';
    ctx.fillText(panelTags[cfg.tag], cfg.tagX, cfg.tagY);

    if (cfg.xTitle !== undefined) {
      ctx.font = '28px ' + serif;
      ctx.letterSpacing = '3px';
      ctx.textAlign = 'center';
      ctx.fillText(axisTitles[cfg.xTitle], 616, 792);
    }

    if (cfg.legend) {
      const rows = [527, 563, 598];
      chart.data.datasets.forEach((ds, i) => {
        const y = rows[i];
        ctx.strokeStyle = ds.borderColor;
        ctx.lineWidth = ds.borderWidth;
        ctx.setLineDash(ds.borderDash);
        ctx.beginPath();
        ctx.moveTo(318, y);
        ctx.lineTo(378, y);
        ctx.stroke();
        ctx.setLineDash([]);
        ctx.font = '27px ' + serif;
        ctx.letterSpacing = '1.2px';
        ctx.wordSpacing = '5px';
        ctx.textAlign = 'left';
        ctx.fillText(ds.label, 415, y + 9);
        const w = ctx.measureText(ds.label).width;
        ctx.font = '18px ' + serif;
        ctx.letterSpacing = '1px';
        ctx.fillText(stepExponent[i], 415 + w + 2, y - 3);
      });
    }
    ctx.restore();
  }
};

const fixedY = s => { s.width = 110; };

// a) relative error, log axis
new Chart(document.getElementById('relChart'), {
  type: 'line',
  data: { datasets: makeSets([relErrK5, relErrK7, relErrK9], true) },
  options: {
    responsive: false,
    animation: false,
    events: [],
    layout: { padding: { left: 0, right: 16, top: 22, bottom: 546 } },
    plugins: { legend: { display: false }, tooltip: { enabled: false } },
    scales: {
      x: { type: 'linear', min: 0, max: 10, display: false },
      y: {
        type: 'logarithmic', min: 1.1e-7, max: 5e-3,
        afterFit: fixedY,
        ticks: { display: false },
        grid: { display: false },
        border: { display: false }
      }
    }
  },
  plugins: [decorPlugin]
});

// b) norm error
new Chart(document.getElementById('normChart'), {
  type: 'line',
  data: { datasets: makeSets([normK5, normK7, normK9], false) },
  options: {
    responsive: false,
    animation: false,
    events: [],
    layout: { padding: { left: 0, right: 16, top: 266, bottom: 301.5 } },
    plugins: { legend: { display: false }, tooltip: { enabled: false } },
    scales: {
      x: { type: 'linear', min: 0, max: 10, display: false },
      y: {
        min: 0, max: 30,
        afterFit: fixedY,
        ticks: { stepSize: 5, padding: 10, includeBounds: false },
        grid: { display: false, drawTicks: false },
        border: { display: false }
      }
    }
  },
  plugins: [decorPlugin]
});

// c) iterations, carries the time axis and the legend
new Chart(document.getElementById('iterChart'), {
  type: 'line',
  data: { datasets: makeSets([iterK5, iterK7, iterK9], false) },
  options: {
    responsive: false,
    animation: false,
    events: [],
    layout: { padding: { left: 0, right: 16, top: 510, bottom: 0 } },
    plugins: { legend: { display: false }, tooltip: { enabled: false } },
    scales: {
      x: {
        type: 'linear', min: 0, max: 10,
        afterFit: s => { s.height = 58; },
        afterBuildTicks: s => { s.ticks = timeTicks.map(v => ({ value: v })); },
        ticks: { padding: 10, maxRotation: 0 },
        grid: { display: false, drawTicks: false },
        border: { display: false }
      },
      y: {
        min: 0, max: 22,
        afterFit: fixedY,
        ticks: { stepSize: 5, padding: 10, includeBounds: false },
        grid: { display: false, drawTicks: false },
        border: { display: false }
      }
    }
  },
  plugins: [decorPlugin]
});
</script>
</body>
</html>
